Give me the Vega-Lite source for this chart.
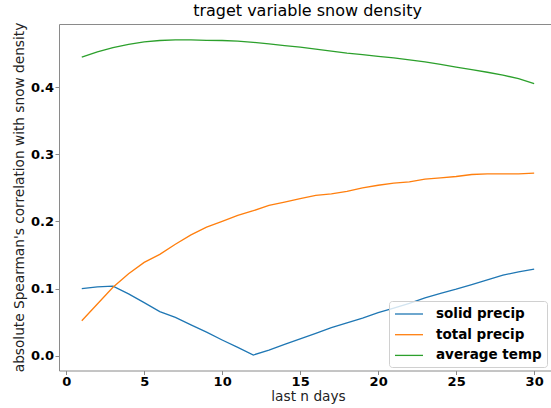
{
  "$schema": "https://vega.github.io/schema/vega-lite/v6.json",
  "width": 492,
  "height": 346.5,
  "autosize": {"type": "none"},
  "padding": {"left": 59, "top": 24, "right": 0, "bottom": 37.5},
  "background": "white",
  "title": {"text": "traget variable snow density", "fontSize": 16, "font": "DejaVu Sans", "fontWeight": "normal", "color": "#000000", "anchor": "middle", "dx": 2.5, "offset": 3.5},
  "config": {
    "view": {"stroke": "#8a8a8a", "strokeWidth": 1},
    "axis": {"grid": false, "domain": false, "tickColor": "#8a8a8a", "tickSize": 4, "labelFont": "DejaVu Sans", "labelFontWeight": "bold", "labelFontSize": 13, "labelColor": "#000000", "titleFont": "DejaVu Sans", "titleFontWeight": "normal", "titleFontSize": 13.7, "titleColor": "#222222"}
  },
  "data": {"values": [
    {"n":1,"s":"solid precip","v":0.100},{"n":2,"s":"solid precip","v":0.1025},{"n":3,"s":"solid precip","v":0.1035},{"n":4,"s":"solid precip","v":0.092},{"n":5,"s":"solid precip","v":0.079},{"n":6,"s":"solid precip","v":0.0657},{"n":7,"s":"solid precip","v":0.057},{"n":8,"s":"solid precip","v":0.046},{"n":9,"s":"solid precip","v":0.035},{"n":10,"s":"solid precip","v":0.0234},{"n":11,"s":"solid precip","v":0.0124},{"n":12,"s":"solid precip","v":0.001},{"n":13,"s":"solid precip","v":0.0083},{"n":14,"s":"solid precip","v":0.0167},{"n":15,"s":"solid precip","v":0.025},{"n":16,"s":"solid precip","v":0.0333},{"n":17,"s":"solid precip","v":0.0418},{"n":18,"s":"solid precip","v":0.049},{"n":19,"s":"solid precip","v":0.056},{"n":20,"s":"solid precip","v":0.064},{"n":21,"s":"solid precip","v":0.071},{"n":22,"s":"solid precip","v":0.078},{"n":23,"s":"solid precip","v":0.086},{"n":24,"s":"solid precip","v":0.093},{"n":25,"s":"solid precip","v":0.099},{"n":26,"s":"solid precip","v":0.106},{"n":27,"s":"solid precip","v":0.113},{"n":28,"s":"solid precip","v":0.120},{"n":29,"s":"solid precip","v":0.125},{"n":30,"s":"solid precip","v":0.129},
    {"n":1,"s":"total precip","v":0.052},{"n":2,"s":"total precip","v":0.077},{"n":3,"s":"total precip","v":0.102},{"n":4,"s":"total precip","v":0.122},{"n":5,"s":"total precip","v":0.139},{"n":6,"s":"total precip","v":0.151},{"n":7,"s":"total precip","v":0.166},{"n":8,"s":"total precip","v":0.180},{"n":9,"s":"total precip","v":0.1915},{"n":10,"s":"total precip","v":0.200},{"n":11,"s":"total precip","v":0.209},{"n":12,"s":"total precip","v":0.216},{"n":13,"s":"total precip","v":0.224},{"n":14,"s":"total precip","v":0.229},{"n":15,"s":"total precip","v":0.234},{"n":16,"s":"total precip","v":0.239},{"n":17,"s":"total precip","v":0.241},{"n":18,"s":"total precip","v":0.245},{"n":19,"s":"total precip","v":0.250},{"n":20,"s":"total precip","v":0.254},{"n":21,"s":"total precip","v":0.257},{"n":22,"s":"total precip","v":0.259},{"n":23,"s":"total precip","v":0.263},{"n":24,"s":"total precip","v":0.265},{"n":25,"s":"total precip","v":0.267},{"n":26,"s":"total precip","v":0.270},{"n":27,"s":"total precip","v":0.271},{"n":28,"s":"total precip","v":0.271},{"n":29,"s":"total precip","v":0.271},{"n":30,"s":"total precip","v":0.272},
    {"n":1,"s":"average temp","v":0.445},{"n":2,"s":"average temp","v":0.4527},{"n":3,"s":"average temp","v":0.459},{"n":4,"s":"average temp","v":0.464},{"n":5,"s":"average temp","v":0.4677},{"n":6,"s":"average temp","v":0.4697},{"n":7,"s":"average temp","v":0.4707},{"n":8,"s":"average temp","v":0.4707},{"n":9,"s":"average temp","v":0.470},{"n":10,"s":"average temp","v":0.4697},{"n":11,"s":"average temp","v":0.4687},{"n":12,"s":"average temp","v":0.467},{"n":13,"s":"average temp","v":0.4647},{"n":14,"s":"average temp","v":0.462},{"n":15,"s":"average temp","v":0.4597},{"n":16,"s":"average temp","v":0.457},{"n":17,"s":"average temp","v":0.454},{"n":18,"s":"average temp","v":0.451},{"n":19,"s":"average temp","v":0.4487},{"n":20,"s":"average temp","v":0.446},{"n":21,"s":"average temp","v":0.4437},{"n":22,"s":"average temp","v":0.4407},{"n":23,"s":"average temp","v":0.4377},{"n":24,"s":"average temp","v":0.434},{"n":25,"s":"average temp","v":0.430},{"n":26,"s":"average temp","v":0.4263},{"n":27,"s":"average temp","v":0.4224},{"n":28,"s":"average temp","v":0.418},{"n":29,"s":"average temp","v":0.413},{"n":30,"s":"average temp","v":0.4055}
  ]},
  "mark": {"type": "line", "strokeWidth": 1.3, "clip": true},
  "encoding": {
    "x": {"field": "n", "type": "quantitative", "scale": {"domain": [-0.46, 31.08], "nice": false, "zero": false}, "axis": {"values": [0,5,10,15,20,25,30], "labelPadding": 1, "title": "last n days", "titleX": 249, "titleY": 30, "titleBaseline": "alphabetic"}},
    "y": {"field": "v", "type": "quantitative", "scale": {"domain": [-0.0221, 0.4943], "nice": false, "zero": false}, "axis": {"values": [0,0.1,0.2,0.3,0.4], "format": ".1f", "labelPadding": 1.5, "title": "absolute Spearman's correlation with snow density", "titleX": -36, "titleY": 173, "titleBaseline": "alphabetic"}},
    "color": {"field": "s", "type": "nominal", "sort": ["solid precip","total precip","average temp"], "scale": {"domain": ["solid precip","total precip","average temp"], "range": ["#1f77b4","#ff7f0e","#2ca02c"]},
      "legend": {"title": null, "orient": "none", "legendX": 330, "legendY": 277, "symbolType": "M-1,0L3,0", "symbolSize": 196, "symbolStrokeWidth": 1.3, "labelFont": "DejaVu Sans", "labelFontWeight": "bold", "labelFontSize": 13.5, "labelColor": "#000000", "labelOffset": 26, "rowPadding": 5.7, "padding": 5, "strokeColor": "#d0d0d0", "fillColor": "rgba(255,255,255,0.8)", "cornerRadius": 3}}
  }
}
